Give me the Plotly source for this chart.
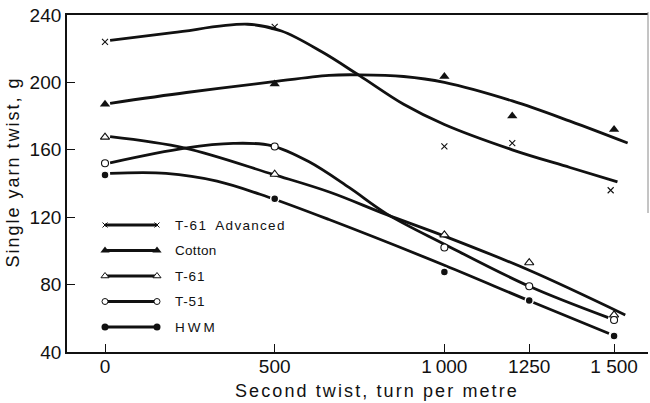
import plotly.graph_objects as go

# ---- measured breaking loads (g) at each second-twist level (turns per metre)
adv_twist = [0, 500, 1000, 1200, 1490]
adv_load = [224, 233, 162, 164, 136]

cotton_twist = [0, 500, 1000, 1200, 1500]
cotton_load = [187, 199, 203.5, 180, 172]

twist_levels = [0, 500, 1000, 1250, 1500]
t61_load = [167.5, 145.5, 109.5, 93, 62]
t51_load = [152, 162, 102, 79, 59]
hwm_load = [145, 131, 87.5, 70.5, 49.5]

# ---- hand-fitted trend curves through each series
adv_fit_x = [15, 200, 420, 520, 640, 750, 880, 1000, 1200, 1370, 1510]
adv_fit_y = [225, 229.5, 234.5, 230.5, 218, 204, 187, 175, 160, 149.5, 141]

cotton_fit_x = [15, 240, 480, 660, 750, 880, 1000, 1200, 1370, 1540]
cotton_fit_y = [187.6, 194, 200, 204.2, 204.5, 203.5, 200, 189, 177, 164]

t61_fit_x = [15, 236, 495, 663, 830, 1000, 1250, 1533]
t61_fit_y = [167.8, 161, 145.4, 134.8, 121.5, 108.8, 88.5, 62]

t51_fit_x = [15, 236, 378, 490, 600, 720, 830, 1000, 1250, 1483]
t51_fit_y = [152.3, 161, 163.8, 162.5, 153, 137.5, 122, 104, 79, 60.4]

hwm_fit_x = [15, 180, 330, 480, 660, 1000, 1250, 1485]
hwm_fit_y = [146, 146, 141.4, 132, 118.6, 91.5, 70.4, 51]

# ---- axis ticks
x_tickvals = [0, 500, 1000, 1250, 1500]
x_ticktext = ["0", "500", "1\u2009000", "1250", "1 500"]
y_tickvals = [40, 80, 120, 160, 200, 240]
y_ticktext = ["40", "80", "120", "160", "200", "240"]

series_names = ["T-61 Advanced", "Cotton", "T-61", "T-51", "HWM"]

INK = "#111111"
FONT = "Liberation Sans, Arial, sans-serif"

marker_styles = {
    "T-61 Advanced": dict(symbol="x-thin", size=6, color=INK, line=dict(color=INK, width=1.1)),
    "Cotton": dict(symbol="triangle-up", size=9, color=INK, line=dict(color=INK, width=0)),
    "T-61": dict(symbol="triangle-up", size=8, color="white", line=dict(color=INK, width=1.1)),
    "T-51": dict(symbol="circle", size=7, color="white", line=dict(color=INK, width=1.1)),
    "HWM": dict(symbol="circle", size=8, color=INK, line=dict(color="white", width=1.5)),
}
legend_marker_styles = {
    "T-61 Advanced": dict(symbol="x-thin", size=5, color=INK, line=dict(color=INK, width=1)),
    "Cotton": dict(symbol="triangle-up", size=8, color=INK, line=dict(width=0)),
    "T-61": dict(symbol="triangle-up", size=7, color="white", line=dict(color=INK, width=1)),
    "T-51": dict(symbol="circle", size=6, color="white", line=dict(color=INK, width=1)),
    "HWM": dict(symbol="circle", size=7, color=INK, line=dict(width=0)),
}
legend_text = {
    "T-61 Advanced": ("T-61\u2002Advanced", 1.3),
    "Cotton": ("Cotton", 0.3),
    "T-61": ("T-61", 0.8),
    "T-51": ("T-51", 0.8),
    "HWM": ("HWM", 3.0),
}

points = {
    "T-61 Advanced": (adv_twist, adv_load),
    "Cotton": (cotton_twist, cotton_load),
    "T-61": (twist_levels, t61_load),
    "T-51": (twist_levels, t51_load),
    "HWM": (twist_levels, hwm_load),
}
fits = {
    "T-61 Advanced": (adv_fit_x, adv_fit_y),
    "Cotton": (cotton_fit_x, cotton_fit_y),
    "T-61": (t61_fit_x, t61_fit_y),
    "T-51": (t51_fit_x, t51_fit_y),
    "HWM": (hwm_fit_x, hwm_fit_y),
}

fig = go.Figure()

# trend curves
for name in series_names:
    fx, fy = fits[name]
    fig.add_trace(go.Scatter(
        x=fx, y=fy, mode="lines", showlegend=False, hoverinfo="skip",
        line=dict(color=INK, width=2.8, shape="spline", smoothing=1.0),
    ))

# measured points on top
for name in series_names:
    px_, py_ = points[name]
    fig.add_trace(go.Scatter(
        x=px_, y=py_, mode="markers", name=name, showlegend=False,
        marker=marker_styles[name],
    ))

# key drawn on a pixel-unit overlay (x2/y2) inside the frame
W, H = 650, 403
M_L, M_R, M_T, M_B = 67, 2, 15, 51
PLOT_W, PLOT_H = W - M_L - M_R, H - M_T - M_B
KEY_X0, KEY_X1, KEY_TEXT_X = 105, 157, 173
KEY_TOP, KEY_STEP = 225, 25.5


def paper_x(px):
    return (px - M_L) / PLOT_W


def paper_y(py):
    return (H - M_B - py) / PLOT_H


annotations = []
for i, name in enumerate(series_names):
    ry = KEY_TOP + KEY_STEP * i
    fig.add_trace(go.Scatter(
        x=[KEY_X0, KEY_X1], y=[ry, ry], xaxis="x2", yaxis="y2",
        mode="lines+markers", showlegend=False, hoverinfo="skip",
        line=dict(color=INK, width=3),
        marker=legend_marker_styles[name],
    ))
    label, spacing = legend_text[name]
    annotations.append(dict(
        x=KEY_TEXT_X, y=ry, xref="x2", yref="y2", xanchor="left", yanchor="middle",
        showarrow=False,
        text=f'<span style="letter-spacing:{spacing}px">{label}</span>',
        font=dict(family=FONT, size=13.5, color=INK),
    ))

# axis titles (placed in paper space, outside the frame)
annotations.append(dict(
    x=paper_x(377), y=paper_y(391), xref="paper", yref="paper",
    xanchor="center", yanchor="middle", showarrow=False,
    text='<span style="letter-spacing:2.1px">Second twist, turn per metre</span>',
    font=dict(family=FONT, size=18, color=INK),
))
annotations.append(dict(
    x=paper_x(12.5), y=paper_y(172), xref="paper", yref="paper",
    xanchor="center", yanchor="middle", showarrow=False, textangle=-90,
    text='<span style="letter-spacing:2px">Single yarn twist, g</span>',
    font=dict(family=FONT, size=18, color=INK),
))

fig.update_layout(
    width=W, height=H,
    margin=dict(l=M_L, r=M_R, t=M_T, b=M_B, pad=0),
    paper_bgcolor="white", plot_bgcolor="white",
    showlegend=False,
    font=dict(family=FONT, color=INK),
    annotations=annotations,
    xaxis=dict(
        range=[-112, 1600], tickvals=x_tickvals, ticktext=x_ticktext,
        showgrid=False, zeroline=False,
        showline=True, linecolor=INK, linewidth=1.8, mirror=True,
        ticks="inside", ticklen=8, tickwidth=1, tickcolor=INK,
        ticklabelstandoff=-4,
        tickfont=dict(family=FONT, size=19, color=INK),
    ),
    yaxis=dict(
        range=[40, 240], tickvals=y_tickvals, ticktext=y_ticktext,
        showgrid=False, zeroline=False,
        showline=True, linecolor=INK, linewidth=1.8,
        ticks="inside", ticklen=8, tickwidth=1, tickcolor=INK,
        tickfont=dict(family=FONT, size=19, color=INK),
    ),
    xaxis2=dict(range=[M_L, W - M_R], overlaying="x", visible=False, fixedrange=True),
    yaxis2=dict(range=[H - M_B, M_T], overlaying="y", visible=False, fixedrange=True),
    shapes=[dict(
        type="line", xref="paper", yref="paper", x0=1, x1=1,
        y0=paper_y(213), y1=paper_y(M_T - 3),
        line=dict(color="#8a8a8a", width=1),
    )],
)

fig.write_html("out.html")
